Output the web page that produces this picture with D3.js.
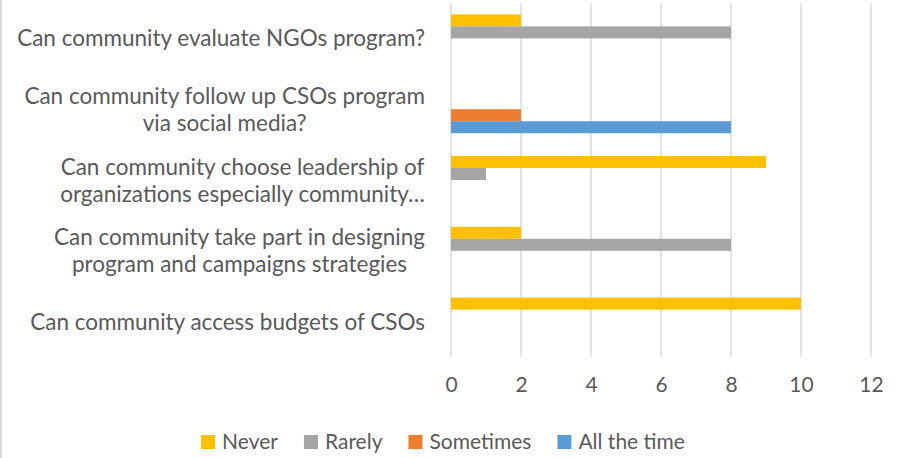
<!DOCTYPE html>
<html>
<head>
<meta charset="utf-8">
<script src="https://cdn.jsdelivr.net/npm/d3@7"></script>
<style>
  body { margin: 0; background: #fff; }
  #chart { width: 902px; height: 458px; }
</style>
</head>
<body>
<div id="chart"></div>
<script>
// data
var categories = [
  ["Can community evaluate NGOs program?"],
  ["Can community follow up CSOs program", "via social media?"],
  ["Can community choose leadership of", "organizations especially community\u2026"],
  ["Can community take part in designing", "program and campaigns strategies"],
  ["Can community access budgets of CSOs"]
];
var seriesNames = ["Never", "Rarely", "Sometimes", "All the time"];
var seriesColors = ["#FFC000", "#A5A5A5", "#ED7D31", "#5B9BD5"];
var never = [2, 0, 9, 2, 10];
var rarely = [8, 0, 1, 8, 0];
var sometimes = [0, 2, 0, 0, 0];
var allTheTime = [0, 8, 0, 0, 0];
var xTicks = [0, 2, 4, 6, 8, 10, 12];

var seriesValues = [never, rarely, sometimes, allTheTime];

var svgWidth = 902, svgHeight = 458;
var margin = { top: 3, left: 451, right: 31, bottom: 101 };
var width = svgWidth - margin.left - margin.right;
var height = svgHeight - margin.top - margin.bottom;
var font = "Lato, 'Open Sans', sans-serif";
var textColor = "#595959";

var svg = d3.select("#chart").append("svg")
  .attr("width", svgWidth)
  .attr("height", svgHeight);

// left edge of the chart frame
svg.append("line")
  .attr("x1", 1).attr("x2", 1)
  .attr("y1", 0).attr("y2", svgHeight)
  .attr("stroke", "#d9d9d9")
  .attr("stroke-width", 2);

var chartGroup = svg.append("g")
  .attr("transform", `translate(${margin.left}, ${margin.top})`);

var xScale = d3.scaleLinear().domain([0, 12]).range([0, width]);

var yScale = d3.scaleBand()
  .domain(d3.range(categories.length))
  .range([0, height])
  .paddingInner(0.322)
  .paddingOuter(0.161);

var ySub = d3.scaleBand()
  .domain(d3.range(seriesNames.length))
  .range([0, yScale.bandwidth()]);

// gridlines
chartGroup.append("g").selectAll("line")
  .data(xTicks)
  .enter()
  .append("line")
  .attr("x1", d => xScale(d))
  .attr("x2", d => xScale(d))
  .attr("y1", 0)
  .attr("y2", height)
  .attr("stroke", "#d9d9d9")
  .attr("stroke-width", 1.5);

// bars
var rows = [];
categories.forEach(function(c, i) {
  seriesValues.forEach(function(vals, s) {
    if (vals[i] > 0) rows.push({ cat: i, s: s, v: vals[i] });
  });
});

chartGroup.append("g").selectAll("rect")
  .data(rows)
  .enter()
  .append("rect")
  .attr("x", xScale(0))
  .attr("y", d => yScale(d.cat) + ySub(d.s))
  .attr("width", d => xScale(d.v) - xScale(0))
  .attr("height", ySub.bandwidth())
  .attr("fill", d => seriesColors[d.s]);

// x axis tick labels
var xAxis = d3.axisBottom(xScale).tickValues(xTicks).tickSize(0).tickPadding(0);
var xg = chartGroup.append("g")
  .attr("transform", `translate(0, ${height + 20})`)
  .call(xAxis);
xg.select(".domain").remove();
xg.selectAll("text")
  .attr("font-family", font)
  .attr("font-size", "21px")
  .attr("fill", textColor);

// category labels: lines centred, block right-aligned
var labelRight = 425 - margin.left;
var lineH = 27;
categories.forEach(function(lines, i) {
  var g = chartGroup.append("g");
  var texts = g.selectAll("text")
    .data(lines)
    .enter()
    .append("text")
    .attr("font-family", font)
    .attr("font-size", "22.5px")
    .attr("fill", textColor)
    .attr("text-anchor", "middle")
    .text(d => d);
  var maxW = d3.max(texts.nodes(), n => n.getComputedTextLength());
  var cy = yScale(i) + yScale.bandwidth() / 2;
  var firstBase = cy + 8 - (lines.length - 1) * lineH / 2;
  texts
    .attr("x", labelRight - maxW / 2)
    .attr("y", (d, j) => firstBase + j * lineH);
});

// legend
var legend = svg.append("g");
var lx = 0;
seriesNames.forEach(function(name, i) {
  var item = legend.append("g").attr("transform", `translate(${lx}, 0)`);
  item.append("rect")
    .attr("x", 0).attr("y", 435)
    .attr("width", 14).attr("height", 14)
    .attr("fill", seriesColors[i]);
  var t = item.append("text")
    .attr("x", 21).attr("y", 449)
    .attr("font-family", font)
    .attr("font-size", "21px")
    .attr("fill", textColor)
    .text(name);
  lx += 21 + t.node().getComputedTextLength() + 26;
});
var legendW = lx - 26;
legend.attr("transform", `translate(${443 - legendW / 2}, 0)`);
</script>
</body>
</html>
